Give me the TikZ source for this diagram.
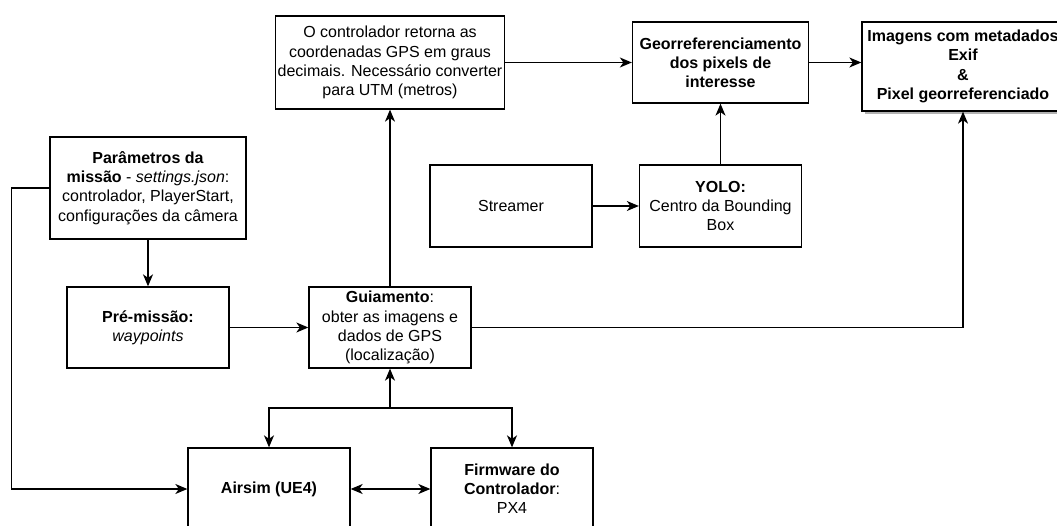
\documentclass[tikz,border=0pt]{standalone}
\usepackage{fontspec}
\setmainfont{Liberation Sans}
\usetikzlibrary{arrows.meta,shadows}

\begin{document}
\begin{tikzpicture}[
       x=1pt, y=-1pt,
       font=\fontsize{16}{19.2}\selectfont,
       box/.style={rectangle, draw=black, line width=1.3pt, minimum width=162pt, minimum height=82pt, align=center, inner sep=2pt, fill=white},
       shadowbox/.style={box, drop shadow={shadow xshift=3pt, shadow yshift=-3pt, fill=black, opacity=0.3}},
       arrow/.style={-{Stealth[length=12pt,width=10pt,inset=3.5pt]}, line width=1.3pt, black},
       dblarrow/.style={{Stealth[length=12pt,width=10pt,inset=3.5pt]}-{Stealth[length=12pt,width=10pt,inset=3.5pt]}, line width=1.3pt, black}
   ]
   \useasboundingbox (0,0) rectangle (1057,526);
   \node[box, minimum width=196pt, minimum height=102pt] (params) at (148,188) {\textbf{Parâmetros da}\\\textbf{missão} - \textit{settings.json}:\\controlador, PlayerStart,\\configurações da câmera};
   \node[box, minimum height=81pt] (premissao) at (148,327.5) {\textbf{Pré-missão:}\\\textit{waypoints}};
   \node[box, minimum height=81pt] (guiamento) at (390,327.5) {\textbf{Guiamento}:\\obter as imagens e\\dados de GPS\\(localização)};
   \node[box, minimum width=229pt, minimum height=93pt] (conversao) at (390,62.5) {O controlador retorna as\\coordenadas GPS em graus\\decimais. Necessário converter\\para UTM (metros)};
   \node[box] (streamer) at (511,206) {Streamer};
   \node[box] (yolo) at (720.5,206) {\textbf{YOLO:}\\Centro da Bounding\\Box};
   \node[box, minimum width=176pt, minimum height=81pt] (georref) at (720.5,62.5) {\textbf{Georreferenciamento}\\\textbf{dos pixels de}\\\textbf{interesse}};
   \node[shadowbox, minimum width=202pt, minimum height=89pt] (imagens) at (963,66.5) {\textbf{Imagens com metadados}\\\textbf{Exif}\\\textbf{\&}\\\textbf{Pixel georreferenciado}};
   \node[box] (airsim) at (269,489) {\textbf{Airsim (UE4)}};
   \node[box] (firmware) at (512,489) {\textbf{Firmware do}\\\textbf{Controlador}:\\PX4};
   \coordinate (juncao) at (390,408);

   \draw[arrow] (params.south) -- (premissao.north);
   \draw[arrow] (params.west) -- ++(-38,0) |- (airsim.west);
   \draw[arrow] (premissao.east) -- (guiamento.west);
   \draw[arrow] (guiamento.north) -- (conversao.south);
   \draw[arrow] (conversao.east) -- (georref.west);
   \draw[arrow] (georref.east) -- (georref.east -| imagens.west);
   \draw[arrow] (streamer.east) -- (yolo.west);
   \draw[arrow] (yolo.north) -- (georref.south);
   \draw[arrow] (guiamento.east) -| (imagens.south);
   \draw[arrow] (juncao) -- (guiamento.south);
   \draw[arrow] (juncao) -| (airsim.north);
   \draw[arrow] (juncao) -| (firmware.north);
   \draw[dblarrow] (airsim.east) -- (firmware.west);
\end{tikzpicture}
\end{document}
